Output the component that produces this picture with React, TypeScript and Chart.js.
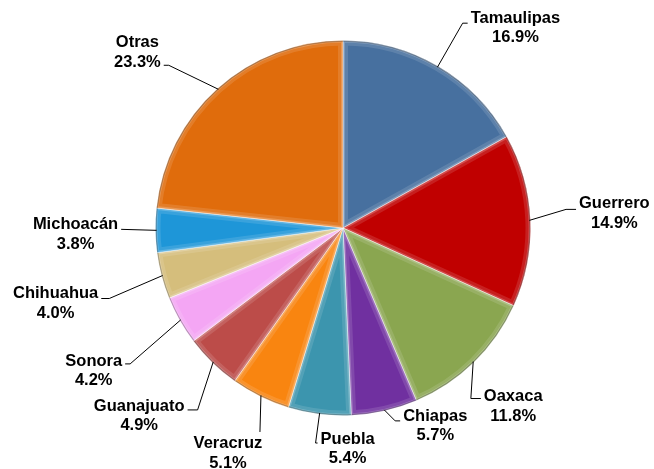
import React, { useEffect, useRef } from 'react';
import { Chart, registerables } from 'chart.js';

Chart.register(...registerables);

const states = ['Tamaulipas', 'Guerrero', 'Oaxaca', 'Chiapas', 'Puebla', 'Veracruz', 'Guanajuato', 'Sonora', 'Chihuahua', 'Michoacán', 'Otras'];
const shares = [16.9, 14.9, 11.8, 5.7, 5.4, 5.1, 4.9, 4.2, 4.0, 3.8, 23.3];
const sliceColors = ['#47709F', '#C00000', '#8AA650', '#7030A0', '#3C95AE', '#F98510', '#BC4C49', '#F4A6F4', '#D5BE7C', '#1E96D8', '#E06C0C'];

// label layout: offset of label block centre from slice rim anchor, connection side, y offset of connector, elbow length
const labelLayout: [number, number, string, number, number][] = [
  [78, -40, 'l', -4, 5],
  [85, -8, 'l', -3, 10],
  [40, 44, 'l', -7, 10],
  [51, 15, 'l', -4, 5],
  [28, 35, 'l', -5, 2],
  [-33, 57, 't', 0, 0],
  [-74, 53, 'r', -5, 10],
  [-87, 50, 'r', -6, 5],
  [-107, 27, 'r', -4, 8],
  [-81, 3, 'r', -4, 0],
  [-81, -38, 'r', 14, 5],
];

const bevelPlugin = {
  id: 'bevel',
  afterDatasetsDraw(chart: any) {
    const ctx = chart.ctx;
    const meta = chart.getDatasetMeta(0);
    meta.data.forEach((arc: any) => {
      const { x, y, startAngle, endAngle, outerRadius } = arc.getProps(['x', 'y', 'startAngle', 'endAngle', 'outerRadius'], true);
      ctx.save();
      ctx.beginPath();
      ctx.moveTo(x, y);
      ctx.arc(x, y, outerRadius, startAngle, endAngle);
      ctx.closePath();
      ctx.clip();
      ctx.beginPath();
      ctx.moveTo(x, y);
      ctx.arc(x, y, outerRadius, startAngle, endAngle);
      ctx.closePath();
      ctx.lineJoin = 'round';
      ctx.lineWidth = 10;
      ctx.strokeStyle = 'rgba(255,255,255,0.12)';
      ctx.stroke();
      ctx.lineWidth = 4;
      ctx.strokeStyle = 'rgba(255,255,255,0.2)';
      ctx.stroke();
      ctx.beginPath();
      ctx.arc(x, y, outerRadius - 0.5, startAngle, endAngle);
      ctx.lineWidth = 1.5;
      ctx.strokeStyle = 'rgba(0,0,0,0.25)';
      ctx.stroke();
      ctx.restore();
    });
  },
};

const labelPlugin = {
  id: 'outLabels',
  afterDraw(chart: any) {
    const ctx = chart.ctx;
    const meta = chart.getDatasetMeta(0);
    ctx.save();
    ctx.font = 'bold 16.5px "Liberation Sans", Arial, sans-serif';
    ctx.fillStyle = '#000';
    ctx.textAlign = 'center';
    ctx.textBaseline = 'middle';
    ctx.strokeStyle = '#000';
    ctx.lineWidth = 1;
    meta.data.forEach((arc: any, i: number) => {
      const { x, y, startAngle, endAngle, outerRadius } = arc.getProps(['x', 'y', 'startAngle', 'endAngle', 'outerRadius'], true);
      const mid = (startAngle + endAngle) / 2;
      const ax = x + Math.cos(mid) * (outerRadius - 1);
      const ay = y + Math.sin(mid) * (outerRadius - 1);
      const [dx, dy, side, py, elbow] = labelLayout[i];
      const cx = ax + dx;
      const cy = ay + dy;
      const l1 = states[i];
      const l2 = shares[i].toFixed(1) + '%';
      const w = Math.max(ctx.measureText(l1).width, ctx.measureText(l2).width);
      const lh = 19.5;
      ctx.beginPath();
      ctx.moveTo(ax, ay);
      if (side === 'l') {
        const px = cx - w / 2 - 3;
        const pyy = cy + py;
        ctx.lineTo(px - elbow, pyy);
        ctx.lineTo(px, pyy);
      } else if (side === 'r') {
        const px = cx + w / 2 + 3;
        const pyy = cy + py;
        ctx.lineTo(px + elbow, pyy);
        ctx.lineTo(px, pyy);
      } else {
        ctx.lineTo(ax - 1, cy - lh - 1);
      }
      ctx.stroke();
      ctx.fillText(l1, cx, cy - lh / 2 + 1);
      ctx.fillText(l2, cx, cy + lh / 2 + 1);
    });
    ctx.restore();
  },
};

export default function App() {
  const ref = useRef<HTMLCanvasElement>(null);
  useEffect(() => {
    const chart = new Chart(ref.current as HTMLCanvasElement, {
      type: 'pie',
      data: {
        labels: states,
        datasets: [
          {
            data: shares,
            backgroundColor: sliceColors,
            borderColor: 'rgba(255,255,255,0.45)',
            borderWidth: 1,
          },
        ],
      },
      options: {
        animation: false,
        responsive: true,
        maintainAspectRatio: false,
        layout: { padding: { top: 40, bottom: 53, left: 155, right: 123 } },
        plugins: {
          legend: { display: false },
          tooltip: { enabled: false },
        },
      },
      plugins: [bevelPlugin, labelPlugin],
    });
    return () => chart.destroy();
  }, []);
  return (
    <div style={{ position: 'fixed', left: 0, top: 0, width: 654, height: 469, background: '#fff' }}>
      <canvas ref={ref} />
    </div>
  );
}
